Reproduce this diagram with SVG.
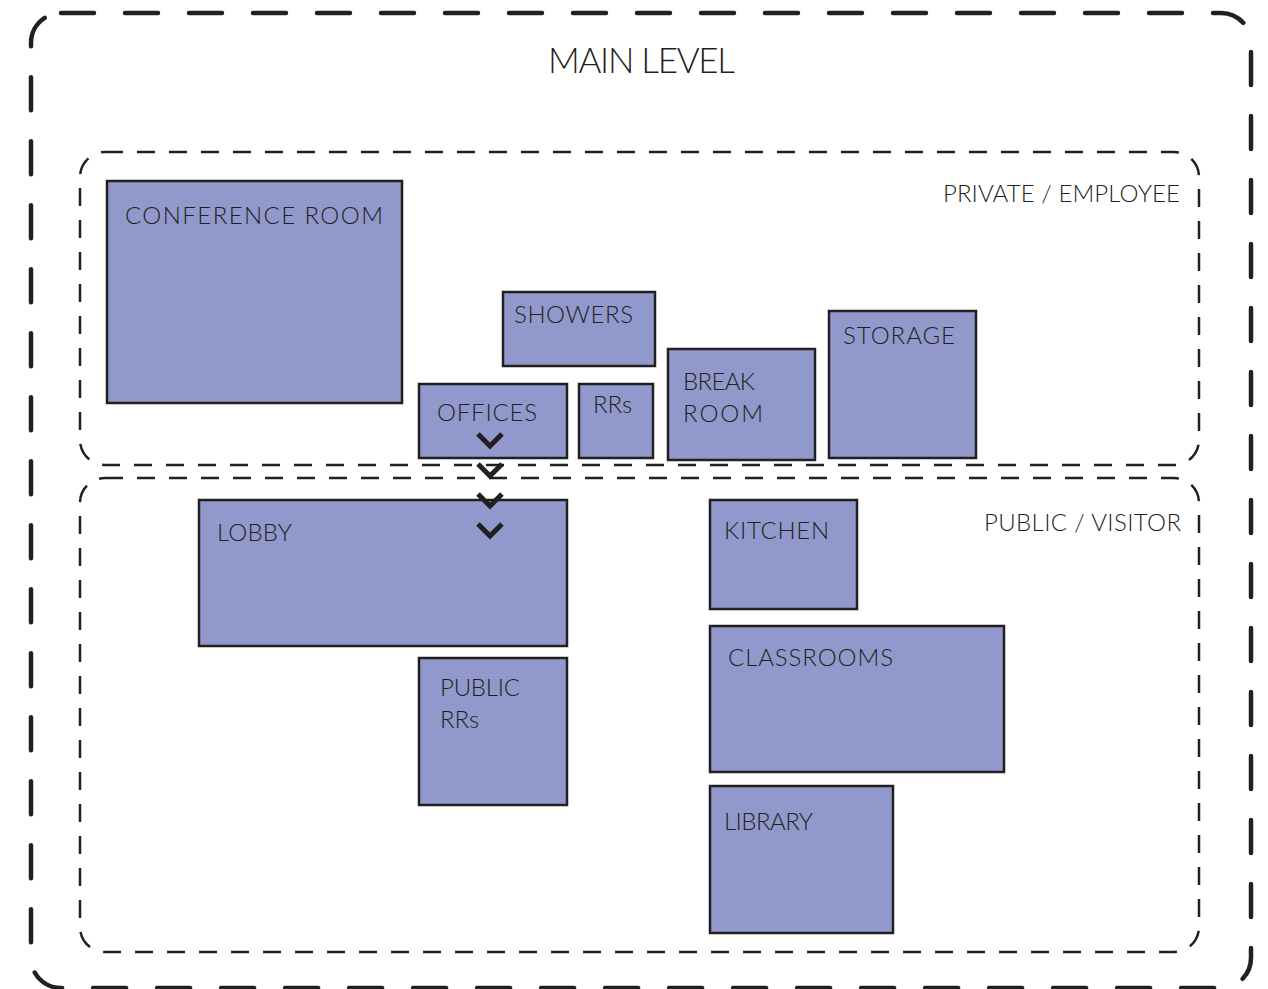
<svg xmlns="http://www.w3.org/2000/svg" width="1268" height="989" viewBox="0 0 1268 989">
<style>
text{font-family:Lato,"Liberation Sans",sans-serif;font-weight:300;fill:#231f20;font-size:24px}
.title{font-size:35px}
.room{fill:#9199cc;stroke:#231f20;stroke-width:2.5}
.outer{fill:none;stroke:#231f20;stroke-width:4.5;stroke-linecap:round;stroke-dasharray:33 31}
.zone{fill:none;stroke:#231f20;stroke-width:2.5;stroke-dasharray:18 14}
.chev{fill:none;stroke:#231f20;stroke-width:5}
</style>
<rect width="1268" height="989" fill="#ffffff"/>
<g id="main-level">
<rect class="outer" x="31" y="13" width="1220" height="975" rx="30"/>
<text class="title" x="548" y="73" textLength="187">MAIN LEVEL</text>
</g>
<g id="zone-private">
<rect class="zone" x="80" y="152" width="1119" height="313" rx="25"/>
<text x="943" y="202" textLength="237">PRIVATE / EMPLOYEE</text>
</g>
<g id="zone-public">
<rect class="zone" x="80" y="478" width="1119" height="474" rx="25"/>
<text x="984" y="531" textLength="197">PUBLIC / VISITOR</text>
</g>
<g id="conference-room">
<rect class="room" x="107" y="181" width="295" height="222"/>
<text x="125" y="224" textLength="258">CONFERENCE ROOM</text>
</g>
<g id="showers">
<rect class="room" x="503" y="292" width="152" height="74"/>
<text x="514" y="323" textLength="119">SHOWERS</text>
</g>
<g id="offices">
<rect class="room" x="419" y="384" width="148" height="74"/>
<text x="437" y="421" textLength="100">OFFICES</text>
</g>
<g id="rrs">
<rect class="room" x="579" y="384" width="74" height="74"/>
<text x="593" y="413">RRs</text>
</g>
<g id="break-room">
<rect class="room" x="668" y="349" width="147" height="111"/>
<text x="683" y="390" textLength="72">BREAK</text>
<text x="683" y="422" textLength="80">ROOM</text>
</g>
<g id="storage">
<rect class="room" x="829" y="311" width="147" height="147"/>
<text x="843" y="344" textLength="112">STORAGE</text>
</g>
<g id="lobby">
<rect class="room" x="199" y="500" width="368" height="146"/>
<text x="217" y="541" textLength="75">LOBBY</text>
</g>
<g id="public-rrs">
<rect class="room" x="419" y="658" width="148" height="147"/>
<text x="440" y="696" textLength="80">PUBLIC</text>
<text x="440" y="728">RRs</text>
</g>
<g id="kitchen">
<rect class="room" x="710" y="500" width="147" height="109"/>
<text x="724" y="539" textLength="105">KITCHEN</text>
</g>
<g id="classrooms">
<rect class="room" x="710" y="626" width="294" height="146"/>
<text x="728" y="666" textLength="165">CLASSROOMS</text>
</g>
<g id="library">
<rect class="room" x="710" y="786" width="183" height="147"/>
<text x="724" y="830" textLength="89">LIBRARY</text>
</g>
<g id="connectors">
<polyline class="chev" points="478,434 490,446 502,434"/>
<polyline class="chev" points="478,464 490,476 502,464"/>
<polyline class="chev" points="478,494 490,506 502,494"/>
<polyline class="chev" points="478,524 490,536 502,524"/>
</g>
</svg>
